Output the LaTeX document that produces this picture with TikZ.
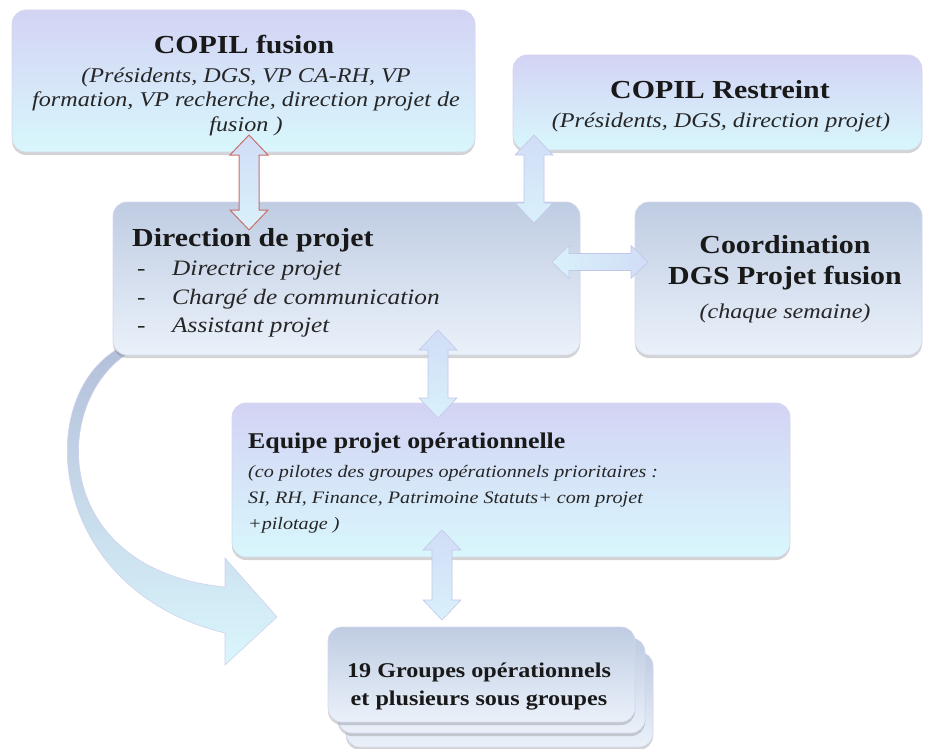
\documentclass[tikz,border=0pt]{standalone}
\usepackage{fontspec}
\setmainfont{Liberation Serif}[FakeStretch=1.15]
\usetikzlibrary{calc,shadows,positioning}

\definecolor{lavtop}{HTML}{D3D3F4}
\definecolor{cyanbot}{HTML}{D8F7FC}
\definecolor{greytop}{HTML}{BFCCE2}
\definecolor{greybot}{HTML}{EAF1FA}
\definecolor{arrtop}{HTML}{D0DDF6}
\definecolor{arrbot}{HTML}{D9F1FB}
\definecolor{arredge}{HTML}{C4C6E8}
\definecolor{rededge}{HTML}{C8706C}
\definecolor{curvtop}{HTML}{B3BFD9}
\definecolor{curvbot}{HTML}{DAF6FC}

\tikzset{
    box/.style={rectangle, rounded corners=14pt, draw=arredge!70, line width=0.6pt, inner sep=0pt,
        drop shadow={shadow xshift=0pt, shadow yshift=-3pt, opacity=0.35}},
    lavbox/.style={box, top color=lavtop, bottom color=cyanbot},
    greybox/.style={box, top color=greytop, bottom color=greybot},
    ttl/.style={inner sep=0pt, text=black!90, font=\bfseries\fontsize{26}{31}\selectfont},
    sub/.style={inner sep=0pt, text=black!85, font=\itshape\fontsize{21}{24.5}\selectfont},
    fatarrow/.style n args={3}{to path={
        -- ($(\tikztostart)!#3!(\tikztotarget)!#2!90:(\tikztotarget)$)
        -- ($(\tikztostart)!#3!(\tikztotarget)!#1!90:(\tikztotarget)$)
        -- ($(\tikztotarget)!#3!(\tikztostart)!#1!90:(\tikztotarget)$)
        -- ($(\tikztotarget)!#3!(\tikztostart)!#2!90:(\tikztotarget)$)
        -- (\tikztotarget)
        -- ($(\tikztotarget)!#3!(\tikztostart)!#2!-90:(\tikztotarget)$)
        -- ($(\tikztotarget)!#3!(\tikztostart)!#1!-90:(\tikztotarget)$)
        -- ($(\tikztostart)!#3!(\tikztotarget)!#1!-90:(\tikztotarget)$)
        -- ($(\tikztostart)!#3!(\tikztotarget)!#2!-90:(\tikztotarget)$)
        -- cycle}},
    vfat/.style={fatarrow={10pt}{19pt}{20pt}, top color=arrtop, bottom color=arrbot, draw=arredge, line width=0.6pt},
    hfat/.style={fatarrow={8.5pt}{16.5pt}{17pt}, left color=arrbot, right color=arrtop, draw=arredge, line width=0.6pt},
}

\begin{document}
\begin{tikzpicture}[x=1pt, y=-1pt]
    \useasboundingbox (0,0) rectangle (926,749);

    %%%%%%%%%% Freccia curva %%%%%%%%%%
    \coordinate (curvA) at (125,345);
    \coordinate (curvT) at (277,617);
    \draw[draw=arredge!80, line width=0.6pt, top color=curvtop, bottom color=curvbot]
        (curvA) .. controls (30,390) and (45,590) .. (225,633)
        -- (225,665) -- (curvT) -- (225,558) -- (225,587)
        .. controls (50,570) and (50,400) .. (130,352) -- cycle;

    %%%%%%%%%% Nodi %%%%%%%%%%
    \node[lavbox, minimum width=463, minimum height=142] (fusion) at (243.5,81) {};
    \node[lavbox, minimum width=409, minimum height=95] (restreint) at (717.5,102.5) {};
    \node[greybox, minimum width=467, minimum height=153] (dir) at (346.5,278.5) {};
    \node[greybox, minimum width=287, minimum height=153] (coord) at (778.5,278.5) {};
    \node[lavbox, minimum width=558, minimum height=154] (equipe) at (511,480) {};
    \node[greybox, minimum width=307, minimum height=95] (grp3) at (499.5,699.5) {};
    \node[greybox, minimum width=307, minimum height=95] (grp2) at (491.5,685.5) {};
    \node[greybox, minimum width=307, minimum height=95] (grp) at (481.5,674.5) {};

    %%%%%%%%%% Testi %%%%%%%%%%
    \node[ttl] (fusiont) at (244,45) {COPIL fusion};
    \node[sub, align=center] (fusions) at (246,101.5) {(Présidents, DGS, VP CA-RH, VP\\formation, VP recherche, direction projet de\\fusion )};
    \node[ttl] (restreintt) at (720,90) {COPIL Restreint};
    \node[sub] (restreints) at (721,122) {(Présidents, DGS, direction projet)};
    \node[ttl, anchor=west] (dirt) at (132,240) {Direction de projet};
    \node[anchor=west, inner sep=0pt, text=black!85, font=\fontsize{22}{28.5}\selectfont] (dirl) at (137,298.5)
        {\begin{tabular}{@{}p{35pt}@{}l@{}}-&\textit{Directrice projet}\\-&\textit{Chargé de communication}\\-&\textit{Assistant projet}\end{tabular}};
    \node[ttl, align=center] (coordt) at (785,262.5) {Coordination\\DGS Projet fusion};
    \node[sub] (coords) at (785,313) {(chaque semaine)};
    \node[ttl, anchor=west, font=\bfseries\fontsize{22.5}{27}\selectfont] (equipet) at (248,443) {Equipe projet opérationnelle};
    \node[sub, anchor=west, align=left, font=\itshape\fontsize{17.5}{26}\selectfont] (equipes) at (248,499.5)
        {(co pilotes des groupes opérationnels prioritaires :\\SI, RH, Finance, Patrimoine Statuts+ com projet\\+pilotage )};
    \node[ttl, align=center, font=\bfseries\fontsize{21}{28}\selectfont] (grpt) at (479,687) {19 Groupes opérationnels\\et plusieurs sous groupes};

    %%%%%%%%% Frecce %%%%%%%%%
    \coordinate (fusA) at (249,135);
    \coordinate (dirA) at (249,230);
    \coordinate (resA) at (534,135);
    \coordinate (dirB) at (534,223);
    \coordinate (dirC) at (552,262);
    \coordinate (cooA) at (648,262);
    \coordinate (dirD) at (438,330);
    \coordinate (equA) at (438,418);
    \coordinate (equB) at (442,530);
    \coordinate (grpA) at (442,620);

    \draw[vfat, draw=rededge, line width=1pt] (fusA) to (dirA);
    \draw[vfat] (resA) to (dirB);
    \draw[hfat] (dirC) to (cooA);
    \draw[vfat] (dirD) to (equA);
    \draw[vfat] (equB) to (grpA);
\end{tikzpicture}
\end{document}
